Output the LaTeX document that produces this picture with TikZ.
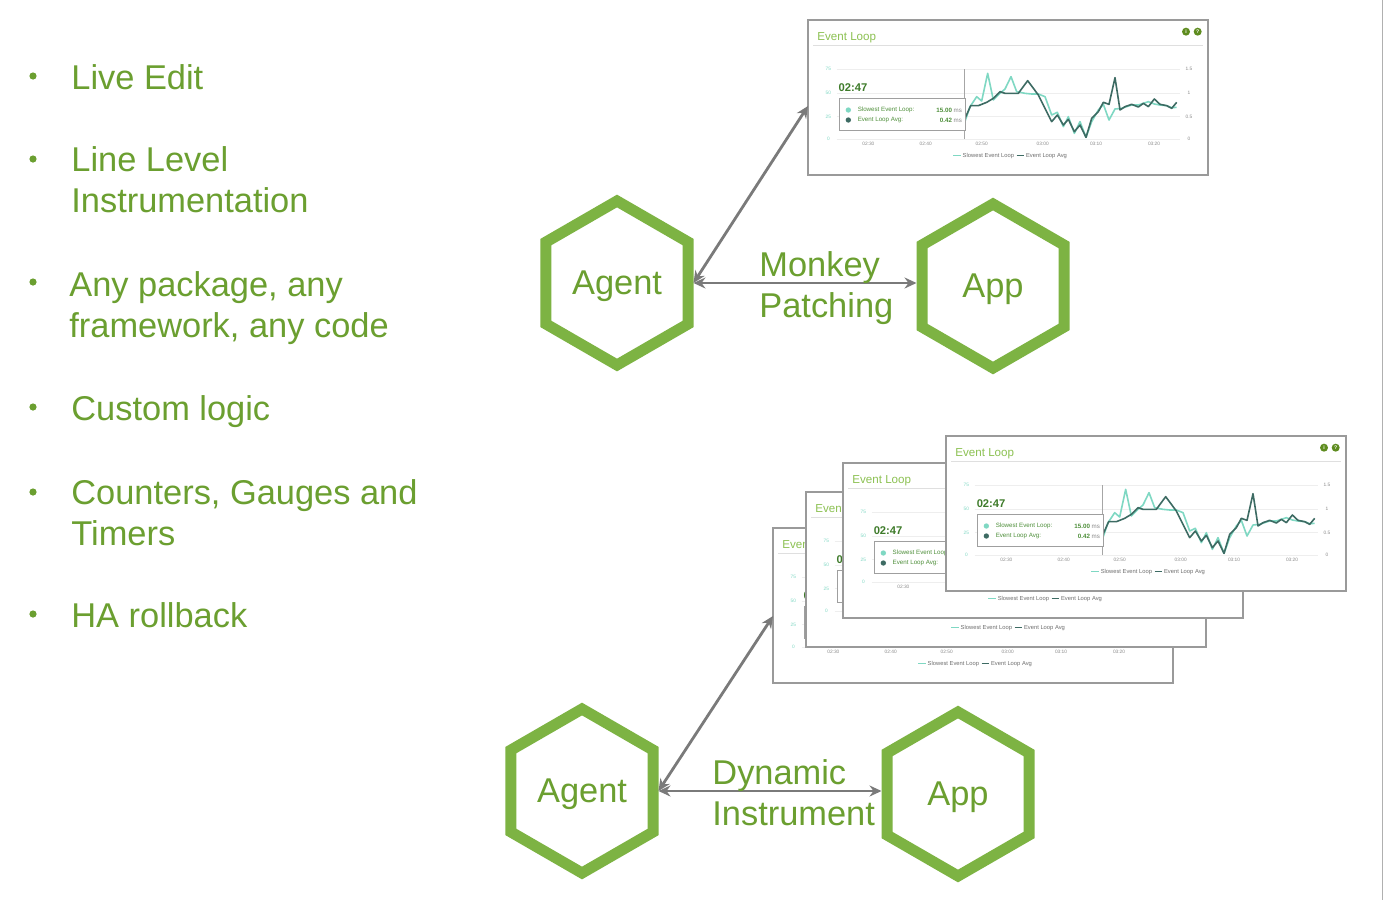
\documentclass[tikz,border=0pt]{standalone}
\usepackage{fontspec}
\setmainfont{Liberation Sans}
\usetikzlibrary{arrows.meta}
\definecolor{txtgreen}{HTML}{6B9F30}
\definecolor{hexgreen}{HTML}{7DB343}
\definecolor{arrowgray}{HTML}{7A7A7A}
\definecolor{tealA}{HTML}{7FD8C3}
\definecolor{tealB}{HTML}{3D6B63}
\definecolor{titlegreen}{HTML}{8CC152}
\definecolor{darkgreen}{HTML}{3E7B2A}
\definecolor{tipgreen}{HTML}{4E8F3A}
\definecolor{icongreen}{HTML}{5E8C1F}
\definecolor{framegray}{HTML}{9A9A9A}
\definecolor{gridgray}{HTML}{EEEEEE}
\definecolor{labgray}{HTML}{8A8A8A}
\definecolor{edgegray}{HTML}{B0B0B0}

\tikzset{
  itemtext/.style={anchor=base west, inner sep=0pt, text=txtgreen, align=left,
    font=\fontsize{17.2}{20.5}\selectfont},
  bulletdot/.style={circle, fill=txtgreen, minimum size=3.6pt, inner sep=0pt},
  hexnode/.style={circle, minimum size=76.5pt, inner sep=0pt, outer sep=0pt,
    text=txtgreen, font=\fontsize{17.2}{20}\selectfont, text depth=0pt},
  hexline/.style={draw=hexgreen, line width=5.5pt, line join=miter},
  conn/.style={draw=arrowgray, line width=1.4pt,
    {Stealth[length=6pt,width=5.5pt,inset=2pt]}-{Stealth[length=6pt,width=5.5pt,inset=2pt]}},
  lbl/.style={anchor=base west, inner sep=0pt, text=txtgreen, align=left,
    font=\fontsize{17.2}{20.5}\selectfont},
  axl/.style={inner sep=0pt, font=\fontsize{2.4}{3}\selectfont},
  tiptext/.style={inner sep=0pt, font=\fontsize{3.1}{3.5}\selectfont, text=tipgreen},
  legtext/.style={inner sep=0pt, anchor=west, font=\fontsize{2.9}{3.2}\selectfont, text=labgray!80!black},
}

\newcommand\hexdraw[1]{%
  \draw[hexline, shift={(#1.center)}] (90:82) -- (30:82) -- (-30:82) -- (-90:82)
     -- (-150:82) -- (150:82) -- cycle;}

\newcommand\evpanel[2]{%
\begin{scope}[shift={(#1,#2)}]
 \begin{scope}[shift={(-3,-5)},scale=0.33333]
  \filldraw[fill=white,draw=framegray,line width=0.9pt] (9,15) rectangle (1209,480);
  \draw[gray!25,line width=0.4pt] (25,92) -- (1195,92);
  \node[font=\fontsize{5.8}{6}\selectfont,text=titlegreen,anchor=west,inner sep=0pt] at (36,67) {Event Loop};
  \fill[icongreen] (1143,50) circle (12);
  \fill[icongreen] (1178,50) circle (12);
  \node[inner sep=0pt,text=white,font=\fontsize{2.6}{3}\selectfont\bfseries] at (1143,50) {i};
  \node[inner sep=0pt,text=white,font=\fontsize{2.6}{3}\selectfont\bfseries] at (1178,50) {?};
  \foreach \yy in {162,235,305,373}{\draw[gridgray,line width=0.4pt] (95,\yy) -- (1125,\yy);}
  \foreach \yy/\tt in {162/75,235/50,305/25,373/0}{\node[axl,text=tealA] at (70,\yy) {\tt};}
  \foreach \yy/\tt in {162/1.5,235/1,305/0.5,373/0}{\node[axl,text=labgray] at (1152,\yy) {\tt};}
  \foreach \xx/\tt in {190/02:30,362/02:40,530/02:50,713/03:00,873/03:10,1047/03:20}{\node[axl,text=labgray] at (\xx,387) {\tt};}
  \draw[gray!70,line width=0.5pt] (478,162) -- (478,373);
  \draw[tealA,line width=0.8pt,line join=round] (478,325) -- (495,275) -- (515,245) -- (530,258) -- (548,175) -- (565,255) -- (585,235) -- (600,222) -- (618,185) -- (635,230) -- (660,235) -- (680,237) -- (700,237) -- (720,245) -- (740,300) -- (757,292) -- (775,335) -- (790,305) -- (808,355) -- (825,320) -- (843,367) -- (860,320) -- (880,285) -- (895,268) -- (912,315) -- (930,282) -- (950,280) -- (980,270) -- (1000,270) -- (1030,260) -- (1048,267) -- (1065,270) -- (1085,272) -- (1100,278) -- (1115,277);
  \draw[tealB,line width=0.8pt,line join=round] (480,310) -- (497,272) -- (520,272) -- (545,262) -- (565,250) -- (585,230) -- (600,235) -- (640,235) -- (668,197) -- (700,240) -- (740,320) -- (757,300) -- (775,330) -- (790,313) -- (808,350) -- (825,330) -- (843,367) -- (860,310) -- (880,290) -- (895,262) -- (912,268) -- (930,188) -- (945,285) -- (960,275) -- (980,268) -- (1000,276) -- (1015,265) -- (1030,275) -- (1048,252) -- (1065,268) -- (1085,272) -- (1100,280) -- (1115,262);
  \node[anchor=west,inner sep=0pt,font=\fontsize{5.6}{6}\selectfont\bfseries,text=darkgreen] at (100,218) {02:47};
  \filldraw[fill=white,draw=gray!75,line width=0.5pt] (103,250) rectangle (480,345);
  \fill[tealA] (130,285) circle (8);
  \fill[tealB] (130,315) circle (8);
  \node[tiptext,anchor=west] at (157,285) {Slowest Event Loop:};
  \node[tiptext,anchor=west] at (157,315) {Event Loop Avg:};
  \node[tiptext,anchor=east] at (472,285) {\textbf{15.00} \textcolor{labgray}{ms}};
  \node[tiptext,anchor=east] at (472,315) {\textbf{0.42} \textcolor{labgray}{ms}};
  \draw[tealA,line width=0.8pt] (445,422) -- (467,422);
  \node[legtext] at (472,422) {Slowest Event Loop};
  \draw[tealB,line width=0.8pt] (635,422) -- (657,422);
  \node[legtext] at (662,422) {Event Loop Avg};
 \end{scope}
\end{scope}}

\begin{document}
\begin{tikzpicture}[x=0.5pt,y=-0.5pt]
\path[use as bounding box, fill=white] (0,0) rectangle (1384,900);
\draw[edgegray,line width=0.8pt] (1382.5,0) -- (1382.5,900);

% bullet list (multi-line nodes: base = baseline of last line)
\node[bulletdot] (b1) at (33,76) {};
\node[itemtext] (t1) at (71,89) {Live Edit};
\node[bulletdot] (b2) at (33,159) {};
\node[itemtext] (t2) at (71,212) {Line Level\\Instrumentation};
\node[bulletdot] (b3) at (33,282) {};
\node[itemtext] (t3) at (69,337) {Any package, any\\framework, any code};
\node[bulletdot] (b4) at (33,407) {};
\node[itemtext] (t4) at (71,420) {Custom logic};
\node[bulletdot] (b5) at (33,492) {};
\node[itemtext] (t5) at (71,545) {Counters, Gauges and\\Timers};
\node[bulletdot] (b6) at (33,614) {};
\node[itemtext] (t6) at (71,627) {HA rollback};

% charts
\evpanel{808}{20}
\evpanel{773}{528}
\evpanel{806}{492}
\evpanel{843}{463}
\evpanel{946}{436}
\coordinate (chartA) at (808,106);
\coordinate (chartB) at (773,616);

% hexagons
\node[hexnode] (agent1) at (617,283) {Agent};
\node[hexnode] (app1) at (993,286) {App};
\node[hexnode] (agent2) at (582,791) {Agent};
\node[hexnode] (app2) at (958,794) {App};
\hexdraw{agent1}
\hexdraw{app1}
\hexdraw{agent2}
\hexdraw{app2}

% connectors
\draw[conn] (agent1.east) -- (agent1.east -| app1.west);
\draw[conn] (agent1.east) -- (chartA);
\draw[conn] (agent2.east) -- (agent2.east -| app2.west);
\draw[conn] (agent2.east) -- (chartB);

\node[lbl] (l1) at (759,317) {Monkey\\Patching};
\node[lbl] (l2) at (712,825) {Dynamic\\Instrument};
\end{tikzpicture}
\end{document}
